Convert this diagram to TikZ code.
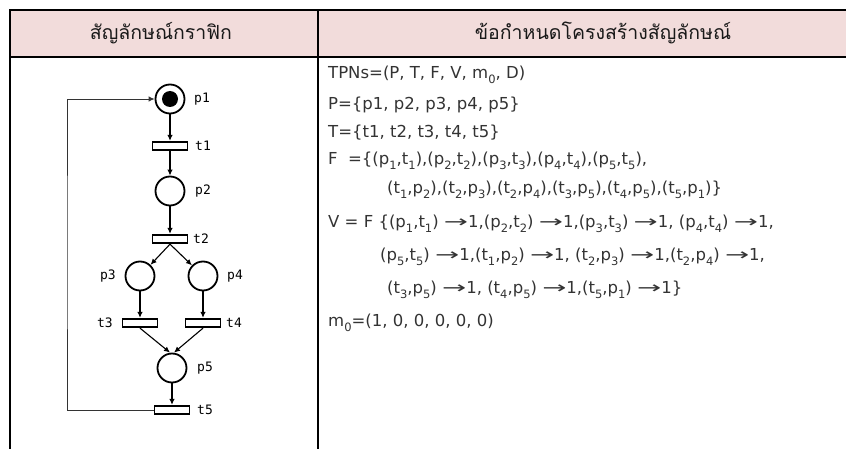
\documentclass[tikz,border=0pt]{standalone}
\usepackage{fontspec}
\usetikzlibrary{arrows.meta}
\newfontfamily\thaifont[Script=Thai]{Loma}
\newfontfamily\netfont{DejaVu Sans Mono}
\newfontfamily\bodyfont{DejaVu Sans}
\newcommand\lo[1]{\raisebox{-0.32em}{\fontsize{11.5}{10}\selectfont #1}}
\newcommand\goesto{\scalebox{1.75}[1]{→}}
\definecolor{headpink}{HTML}{F2DCDB}

\begin{document}
\begin{tikzpicture}[x=1pt,y=-1pt,
  place/.style={circle,draw,line width=1.8pt,minimum size=29pt,inner sep=0pt},
  trans/.style={rectangle,draw,line width=1.8pt,minimum width=35pt,minimum height=8.5pt,inner sep=0pt},
  arc/.style={-{Latex[length=6pt,width=5.5pt]},line width=1.1pt},
  netlabel/.style={font=\netfont\fontsize{13}{14}\selectfont,inner sep=0pt},
  headtext/.style={font=\thaifont\fontsize{19.5}{22}\selectfont,text=black!90},
  spec/.style={anchor=west,inner sep=0pt,font=\bodyfont\fontsize{16.5}{18}\selectfont,text=black!80}]
\useasboundingbox (0,0) rectangle (846,449);
\fill[headpink] (10,10) rectangle (846,57);
\draw[line width=1.4pt] (10,449) -- (10,10) -- (846,10);
\draw[line width=1.8pt] (10,57) -- (846,57);
\draw[line width=1.4pt] (318,10) -- (318,449);
\node[headtext] (hgraph) at (161,33) {สัญลักษณ์กราฟิก};
\node[headtext] (hspec) at (603,33) {ข้อกำหนดโครงสร้างสัญลักษณ์};

\node[place] (p1) at (170,99) {};
\fill (p1) circle (8);
\node[trans] (t1) at (170,146) {};
\node[place] (p2) at (170,191) {};
\node[trans] (t2) at (170,239) {};
\node[place] (p3) at (140,276) {};
\node[place] (p4) at (203,276) {};
\node[trans] (t3) at (140,323) {};
\node[trans] (t4) at (203,323) {};
\node[place] (p5) at (172,368) {};
\node[trans] (t5) at (172,410) {};
\coordinate (back) at (67,250);

\node[netlabel,anchor=west] (lp1) at (194,99) {p1};
\node[netlabel,anchor=west] (lt1) at (195,146) {t1};
\node[netlabel,anchor=west] (lp2) at (195,191) {p2};
\node[netlabel,anchor=west] (lt2) at (193,239) {t2};
\node[netlabel,anchor=east] (lp3) at (116,276) {p3};
\node[netlabel,anchor=west] (lp4) at (227,276) {p4};
\node[netlabel,anchor=east] (lt3) at (113,323) {t3};
\node[netlabel,anchor=west] (lt4) at (226,323) {t4};
\node[netlabel,anchor=west] (lp5) at (197,368) {p5};
\node[netlabel,anchor=west] (lt5) at (197,410) {t5};

\draw[arc] (p1) -- (t1);
\draw[arc] (t1) -- (p2);
\draw[arc] (p2) -- (t2);
\draw[arc] (t2.south) -- (p3);
\draw[arc] (t2.south) -- (p4);
\draw[arc] (p3) -- (t3);
\draw[arc] (p4) -- (t4);
\draw[arc] (t3.south) -- ([xshift=-2pt]p5.north);
\draw[arc] (t4.south) -- ([xshift=2pt]p5.north);
\draw[arc] (p5) -- (t5);
\draw[arc,line width=0.9pt,color=black!80] (t5.west) -| (back) |- (p1.west);

\node[spec] (tpn) at (328,75) {TPNs=(P, T, F, V, m\lo{0}, D)};
\node[spec] (pset) at (328,105) {P=\{p1, p2, p3, p4, p5\}};
\node[spec] (tset) at (328,133) {T=\{t1, t2, t3, t4, t5\}};
\node[spec] (fset) at (328,161) {F\ \ =\{(p\lo{1},t\lo{1}),(p\lo{2},t\lo{2}),(p\lo{3},t\lo{3}),(p\lo{4},t\lo{4}),(p\lo{5},t\lo{5}),};
\node[spec] (fmore) at (387,190) {(t\lo{1},p\lo{2}),(t\lo{2},p\lo{3}),(t\lo{2},p\lo{4}),(t\lo{3},p\lo{5}),(t\lo{4},p\lo{5}),(t\lo{5},p\lo{1})\}};
\node[spec] (vmap) at (328,224) {V = F \{(p\lo{1},t\lo{1}) \goesto1,(p\lo{2},t\lo{2}) \goesto1,(p\lo{3},t\lo{3}) \goesto1, (p\lo{4},t\lo{4}) \goesto1,};
\node[spec] (vmore) at (380,257) {(p\lo{5},t\lo{5}) \goesto1,(t\lo{1},p\lo{2}) \goesto1, (t\lo{2},p\lo{3}) \goesto1,(t\lo{2},p\lo{4}) \goesto1,};
\node[spec] (vlast) at (387,290) {(t\lo{3},p\lo{5}) \goesto1, (t\lo{4},p\lo{5}) \goesto1,(t\lo{5},p\lo{1}) \goesto1\}};
\node[spec] (mzero) at (328,323) {m\lo{0}=(1, 0, 0, 0, 0, 0)};
\end{tikzpicture}
\end{document}
